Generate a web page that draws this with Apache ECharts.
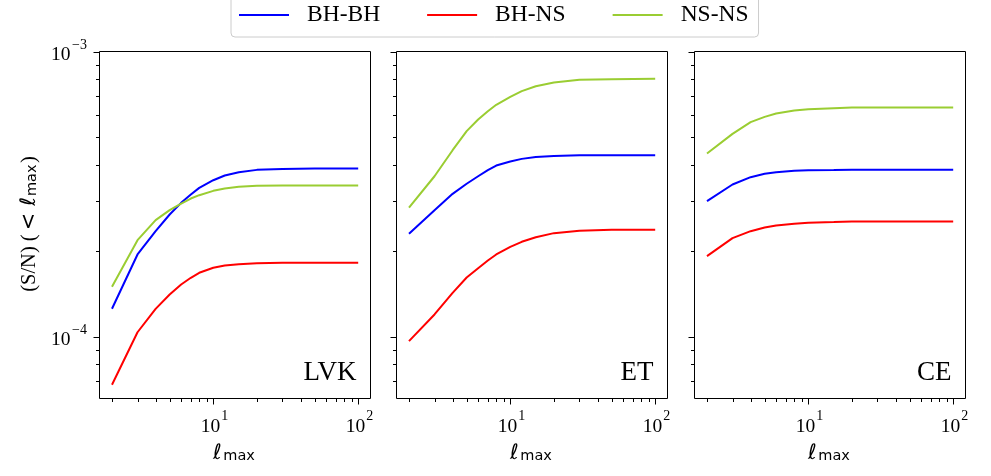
<!DOCTYPE html>
<html>
<head>
<meta charset="utf-8">
<script src="https://cdn.jsdelivr.net/npm/echarts@6/dist/echarts.min.js"></script>
<style>
html,body{margin:0;padding:0;background:#fff;}
#chart{width:991px;height:476px;}
</style>
</head>
<body>
<div id="chart"></div>
<script>
// ---- data ----
const panelNames = ['LVK', 'ET', 'CE'];
const seriesNames = ['BH-BH', 'BH-NS', 'NS-NS'];
const seriesColors = ['#0000ff', '#ff0000', '#9acd32'];

const ellLVK = [2, 3, 4, 5, 6, 7, 8, 10, 12, 15, 20, 30, 50, 100];
const lvkBHBH = [1.251e-4, 1.94e-4, 2.342e-4, 2.68e-4, 2.944e-4, 3.149e-4, 3.322e-4, 3.535e-4, 3.671e-4, 3.771e-4, 3.843e-4, 3.874e-4, 3.885e-4, 3.885e-4];
const lvkBHNS = [6.77e-5, 1.035e-4, 1.25e-4, 1.404e-4, 1.522e-4, 1.607e-4, 1.673e-4, 1.742e-4, 1.774e-4, 1.793e-4, 1.807e-4, 1.813e-4, 1.813e-4, 1.813e-4];
const lvkNSNS = [1.494e-4, 2.178e-4, 2.56e-4, 2.775e-4, 2.928e-4, 3.049e-4, 3.132e-4, 3.244e-4, 3.306e-4, 3.35e-4, 3.378e-4, 3.387e-4, 3.387e-4, 3.387e-4];

const ellET = [2, 3, 4, 5, 6, 7, 8, 10, 12, 15, 20, 30, 50, 100];
const etBHBH = [2.292e-4, 2.774e-4, 3.166e-4, 3.435e-4, 3.65e-4, 3.834e-4, 3.981e-4, 4.112e-4, 4.2e-4, 4.268e-4, 4.303e-4, 4.328e-4, 4.328e-4, 4.328e-4];
const etBHNS = [9.63e-5, 1.195e-4, 1.423e-4, 1.611e-4, 1.737e-4, 1.848e-4, 1.94e-4, 2.064e-4, 2.149e-4, 2.231e-4, 2.305e-4, 2.349e-4, 2.368e-4, 2.368e-4];
const etNSNS = [2.83e-4, 3.65e-4, 4.505e-4, 5.254e-4, 5.77e-4, 6.173e-4, 6.5e-4, 6.935e-4, 7.26e-4, 7.553e-4, 7.78e-4, 7.954e-4, 7.996e-4, 8.02e-4];

const ellCE = [2, 3, 4, 5, 6, 8, 10, 15, 20, 30, 50, 100];
const ceBHBH = [2.984e-4, 3.414e-4, 3.623e-4, 3.723e-4, 3.773e-4, 3.814e-4, 3.834e-4, 3.84e-4, 3.846e-4, 3.846e-4, 3.846e-4, 3.846e-4];
const ceBHNS = [1.914e-4, 2.213e-4, 2.342e-4, 2.413e-4, 2.452e-4, 2.485e-4, 2.506e-4, 2.52e-4, 2.532e-4, 2.532e-4, 2.532e-4, 2.532e-4];
const ceNSNS = [4.385e-4, 5.14e-4, 5.65e-4, 5.897e-4, 6.06e-4, 6.21e-4, 6.27e-4, 6.325e-4, 6.36e-4, 6.36e-4, 6.36e-4, 6.36e-4];

const xMajorTicks = [10, 100];
const xMinorTicks = [2, 3, 4, 5, 6, 7, 8, 9, 20, 30, 40, 50, 60, 70, 80, 90];
const yMajorTicks = [1e-4, 1e-3];
const yMinorTicks = [7e-5, 8e-5, 9e-5, 2e-4, 3e-4, 4e-4, 5e-4, 6e-4, 7e-4, 8e-4, 9e-4];
const xTickLabels = [['10', '1'], ['10', '2']];
const yTickLabels = [['10', '\u22124'], ['10', '\u22123']];

const xRange = [1.64, 121.6];
const yRange = [6.06e-5, 1e-3];
// -----------------------------------------

const panelEll = [ellLVK, ellET, ellCE];
const panelValues = [[lvkBHBH, lvkBHNS, lvkNSNS], [etBHBH, etBHNS, etNSNS], [ceBHBH, ceBHNS, ceNSNS]];

const gridLefts = [99.5, 396.5, 694.5];
const gridTop = 51.5, gridW = 271, gridH = 347;

const serif = 'Liberation Serif';
const F = {
  tick: '19.5px "Liberation Serif"',
  sup: '14px "Liberation Serif"',
  name: '20.5px "Liberation Serif"',
  math: '21px "DejaVu Sans"',
  ell: 'italic 21px "DejaVu Sans"',
  sub: '14.5px "DejaVu Sans"',
  panel: '27px "Liberation Serif"'
};
const mctx = document.createElement('canvas').getContext('2d');
function tw(text, font) { mctx.font = font; return mctx.measureText(text).width; }
function txt(text, font, x, y, align, rot) {
  return {type: 'text', x: x, y: y, rotation: rot || 0, silent: true, z: 10,
    style: {text: text, font: font, fill: '#000', textAlign: align, align: align,
      textVerticalAlign: 'middle', verticalAlign: 'middle'}};
}

const grids = [], xAxes = [], yAxes = [], series = [], graphics = [];
for (let p = 0; p < 3; p++) {
  grids.push({left: gridLefts[p], top: gridTop, width: gridW, height: gridH, show: true,
    borderColor: '#000', borderWidth: 1, backgroundColor: 'transparent'});
  xAxes.push({
    type: 'log', logBase: 10, gridIndex: p, min: xRange[0], max: xRange[1],
    axisLine: {show: false}, axisTick: {show: false}, splitLine: {show: false}, axisLabel: {show: false}
  });
  yAxes.push({
    type: 'log', logBase: 10, gridIndex: p, min: yRange[0], max: yRange[1],
    axisLine: {show: false}, axisTick: {show: false}, splitLine: {show: false}, axisLabel: {show: false}
  });
  for (let k = 0; k < 3; k++) {
    series.push({
      name: seriesNames[k], type: 'line', xAxisIndex: p, yAxisIndex: p,
      data: panelEll[p].map((x, i) => [x, panelValues[p][k][i]]),
      showSymbol: false, symbol: 'none', smooth: false,
      lineStyle: {color: seriesColors[k], width: 2},
      itemStyle: {color: seriesColors[k]},
      emphasis: {disabled: true}, z: 3 + k
    });
  }
  graphics.push(txt(panelNames[p], F.panel, gridLefts[p] + gridW - 14, 373, 'right'));
}

const chart = echarts.init(document.getElementById('chart'), null, {renderer: 'canvas'});
chart.setOption({
  animation: false,
  backgroundColor: '#fff',
  grid: grids, xAxis: xAxes, yAxis: yAxes, series: series,
  legend: {
    data: seriesNames, left: 231, top: -7, orient: 'horizontal',
    padding: [10, 10, 10, 8], itemGap: 47, itemWidth: 50, itemHeight: 2, icon: 'rect',
    backgroundColor: '#fff', borderColor: '#cccccc', borderWidth: 1, borderRadius: 4,
    textStyle: {fontFamily: serif, fontSize: 23.5, color: '#000', padding: [0, 0, 0, 13]},
    selectedMode: false
  }
});

// axis ticks, tick labels and axis titles, placed through the axes' own scales
const els = [];
function vline(x, y1, y2) {
  const xx = Math.round(x) + 0.5;
  els.push({type: 'line', shape: {x1: xx, y1: y1, x2: xx, y2: y2}, style: {stroke: '#000', lineWidth: 1}, silent: true});
}
function hline(y, x1, x2) {
  const yy = Math.round(y) + 0.5;
  els.push({type: 'line', shape: {x1: x1, y1: yy, x2: x2, y2: yy}, style: {stroke: '#000', lineWidth: 1}, silent: true});
}
const bottom = gridTop + gridH;
for (let p = 0; p < 3; p++) {
  const left = gridLefts[p];
  xMajorTicks.forEach((t, i) => {
    const px = chart.convertToPixel({xAxisIndex: p}, t);
    vline(px, bottom, bottom + 6);
    els.push(txt(xTickLabels[i][0], F.tick, px + 7, 427, 'right'));
    els.push(txt(xTickLabels[i][1], F.sup, px + 8, 416.5, 'left'));
  });
  xMinorTicks.forEach(t => vline(chart.convertToPixel({xAxisIndex: p}, t), bottom, bottom + 3.5));
  yMajorTicks.forEach((t, i) => {
    const py = chart.convertToPixel({yAxisIndex: p}, t);
    hline(py, left - 6, left);
    if (p === 0) {
      els.push(txt(yTickLabels[i][0], F.tick, 70.5, py + 3.5, 'right'));
      els.push(txt(yTickLabels[i][1], F.sup, 72, py - 6.5, 'left'));
    }
  });
  yMinorTicks.forEach(t => hline(chart.convertToPixel({yAxisIndex: p}, t), left - 3.5, left));

  // x-axis title: ℓ_max
  const cx = left + gridW / 2 - 1;
  const wl = tw('\u2113', F.ell), wm = tw('max', F.sub);
  const x0 = cx - (wl + 1.5 + wm) / 2;
  els.push(txt('\u2113', F.ell, x0, 461 - 0.346 * 21, 'left'));
  els.push(txt('max', F.sub, x0 + wl + 1.5, 461 - 0.346 * 14.5, 'left'));
}
// y-axis title: (S/N) (< ℓ_max), rotated, reading upward
(function () {
  const parts = [
    ['(S/N) (', F.name, 36.5 - 0.3375 * 20.5, 4],
    ['<', F.math, 36.5 - 0.346 * 21, 7],
    ['\u2113', F.ell, 36.5 - 0.346 * 21, 1],
    ['max', F.sub, 37 - 0.346 * 14.5, 1.5],
    [')', F.name, 36.5 - 0.3375 * 20.5, 0]
  ];
  const widths = parts.map(q => tw(q[0], q[1]));
  let total = 0;
  parts.forEach((q, i) => { total += widths[i] + q[3]; });
  const cy = gridTop + gridH / 2 - 1;
  let pos = cy + total / 2;
  parts.forEach((q, i) => {
    els.push(txt(q[0], q[1], q[2], pos, 'left', Math.PI / 2));
    pos -= widths[i] + q[3];
  });
})();
chart.setOption({graphic: graphics.concat(els)});
</script>
</body>
</html>
